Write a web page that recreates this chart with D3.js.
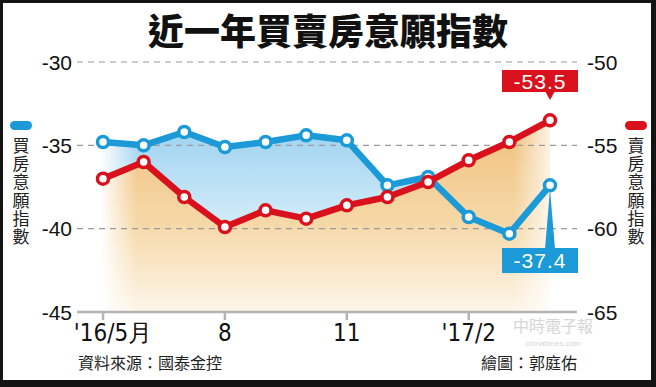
<!DOCTYPE html>
<html>
<head>
<meta charset="utf-8">
<script src="https://cdn.jsdelivr.net/npm/d3@7"></script>
<style>
  body { margin: 0; background: #fff; }
  svg { display: block; }
</style>
</head>
<body>
<div id="chart"></div>
<script>
// ---- data ----
const months = ["2016/5","2016/6","2016/7","2016/8","2016/9","2016/10","2016/11","2016/12","2017/1","2017/2","2017/3","2017/4"];
const buyIndex  = [-34.8, -35.0, -34.2, -35.1, -34.8, -34.4, -34.7, -37.4, -36.9, -39.3, -40.3, -37.4];
const sellIndex = [-57.0, -56.0, -58.1, -59.9, -58.9, -59.4, -58.6, -58.1, -57.2, -55.9, -54.8, -53.5];
const leftTicks  = [-30, -35, -40, -45];
const rightTicks = [-50, -55, -60, -65];
const xTickIdx    = [0, 3, 6, 9];
const xTickLabels = ["'16/5月", "8", "11", "'17/2"];

const W = 656, H = 387;
const BLUE = "#1b9ad7", RED = "#d8111c";
const CJK = "'Noto Sans CJK TC', 'Noto Sans CJK SC', sans-serif";
const NUM = "'Liberation Sans', Arial, sans-serif";
const NARROW = "'Liberation Sans Narrow', 'DejaVu Sans Condensed', 'Liberation Sans', sans-serif";

const svg = d3.select("#chart").append("svg")
  .attr("width", W).attr("height", H);

const defs = svg.append("defs");

// scales
const x = d3.scaleLinear().domain([0, months.length - 1]).range([103, 550]);
const yL = d3.scaleLinear().domain([-45, -30]).range([312, 62]);
const yR = d3.scaleLinear().domain([-65, -50]).range([312, 62]);
const gridX0 = 77, gridX1 = 577;

// frame
svg.append("rect").attr("x", 0).attr("y", 0).attr("width", W).attr("height", H).attr("fill", "#fff");
svg.append("rect").attr("x", 1.5).attr("y", 1.5).attr("width", W - 5).attr("height", H - 6)
  .attr("fill", "none").attr("stroke", "#141414").attr("stroke-width", 3);
svg.append("rect").attr("x", 0).attr("y", H - 7).attr("width", W).attr("height", 7).attr("fill", "#141414");
svg.append("rect").attr("x", W - 5).attr("y", 0).attr("width", 5).attr("height", H).attr("fill", "#141414");

// title
svg.append("text")
  .attr("x", 328).attr("y", 45)
  .attr("text-anchor", "middle")
  .style("font-family", CJK).style("font-weight", "900").style("font-size", "36px")
  .attr("fill", "#111")
  .text("近一年買賣房意願指數");

// gradients
const hFade = defs.append("linearGradient").attr("id", "hfade")
  .attr("gradientUnits", "userSpaceOnUse").attr("x1", 100).attr("x2", 560).attr("y1", 0).attr("y2", 0);
hFade.append("stop").attr("offset", 0).attr("stop-color", "#fff").attr("stop-opacity", 0);
hFade.append("stop").attr("offset", 0.08).attr("stop-color", "#fff").attr("stop-opacity", 1);
hFade.append("stop").attr("offset", 0.9).attr("stop-color", "#fff").attr("stop-opacity", 1);
hFade.append("stop").attr("offset", 1).attr("stop-color", "#fff").attr("stop-opacity", 0);
defs.append("mask").attr("id", "fademask")
  .append("rect").attr("x", 0).attr("y", 0).attr("width", W).attr("height", H).attr("fill", "url(#hfade)");

const orangeG = defs.append("linearGradient").attr("id", "orangeG")
  .attr("gradientUnits", "userSpaceOnUse").attr("x1", 0).attr("x2", 0).attr("y1", 120).attr("y2", 312);
orangeG.append("stop").attr("offset", 0).attr("stop-color", "#f0c07c");
orangeG.append("stop").attr("offset", 0.55).attr("stop-color", "#f6d9a9");
orangeG.append("stop").attr("offset", 1).attr("stop-color", "#fdf6ea");

const blueG = defs.append("linearGradient").attr("id", "blueG")
  .attr("gradientUnits", "userSpaceOnUse").attr("x1", 0).attr("x2", 0).attr("y1", 130).attr("y2", 230);
blueG.append("stop").attr("offset", 0).attr("stop-color", "#9fd3f0");
blueG.append("stop").attr("offset", 1).attr("stop-color", "#d6eef9");

// clip: region above the red line
const aboveRed = d3.area()
  .x((d, i) => x(i))
  .y0(0)
  .y1(d => yR(d));
defs.append("clipPath").attr("id", "aboveRed")
  .append("path").attr("d", aboveRed(sellIndex));

const plot = svg.append("g");

// orange area under the red line
plot.append("path")
  .attr("d", d3.area().x((d, i) => x(i)).y0(yL(-45)).y1(d => yR(d))(sellIndex))
  .attr("fill", "url(#orangeG)")
  .attr("mask", "url(#fademask)");

// blue area between blue line and red line
plot.append("path")
  .attr("d", d3.area().x((d, i) => x(i)).y0(yL(-45)).y1(d => yL(d))(buyIndex))
  .attr("fill", "url(#blueG)")
  .attr("clip-path", "url(#aboveRed)")
  .attr("mask", "url(#fademask)");

// grid lines
const gridG = svg.append("g");
leftTicks.slice(0, 3).forEach(t => {
  gridG.append("line")
    .attr("x1", gridX0).attr("x2", gridX1)
    .attr("y1", yL(t)).attr("y2", yL(t))
    .attr("stroke", "#9a9a9a").attr("stroke-width", 1.2)
    .attr("stroke-dasharray", "6,5");
});
// baseline
gridG.append("line")
  .attr("x1", gridX0).attr("x2", gridX1)
  .attr("y1", yL(-45)).attr("y2", yL(-45))
  .attr("stroke", "#b4b4b4").attr("stroke-width", 2.5);
xTickIdx.forEach(i => {
  gridG.append("line")
    .attr("x1", x(i)).attr("x2", x(i))
    .attr("y1", yL(-45)).attr("y2", yL(-45) + 8)
    .attr("stroke", "#b4b4b4").attr("stroke-width", 2.5);
});

// left axis labels
svg.append("g").selectAll("text").data(leftTicks).enter().append("text")
  .attr("x", 72).attr("y", d => yL(d))
  .attr("dy", "0.36em")
  .attr("text-anchor", "end")
  .style("font-family", NUM).style("font-size", "21px")
  .attr("fill", "#111")
  .text(d => d);

// right axis labels
svg.append("g").selectAll("text").data(rightTicks).enter().append("text")
  .attr("x", 587).attr("y", d => yR(d))
  .attr("dy", "0.36em")
  .attr("text-anchor", "start")
  .style("font-family", NUM).style("font-size", "21px")
  .attr("fill", "#111")
  .text(d => d);

// x labels
svg.append("g").selectAll("text").data(xTickIdx).enter().append("text")
  .attr("x", (d, i) => x(d) + (i === 0 ? 10 : 0))
  .attr("y", 341)
  .attr("text-anchor", "middle")
  .style("font-family", NARROW).style("font-size", "24px")
  .attr("fill", "#111")
  .text((d, i) => xTickLabels[i]);

// lines
const lineL = d3.line().x((d, i) => x(i)).y(d => yL(d));
const lineR = d3.line().x((d, i) => x(i)).y(d => yR(d));

function drawSeries(values, lineFn, yScale, color) {
  const g = svg.append("g");
  g.append("path")
    .attr("d", lineFn(values))
    .attr("fill", "none")
    .attr("stroke", color)
    .attr("stroke-width", 6.5)
    .attr("stroke-linejoin", "round");
  g.selectAll("circle").data(values).enter().append("circle")
    .attr("cx", (d, i) => x(i))
    .attr("cy", d => yScale(d))
    .attr("r", 5.5)
    .attr("fill", "#fff")
    .attr("stroke", color)
    .attr("stroke-width", 3.5);
}
drawSeries(buyIndex, lineL, yL, BLUE);
drawSeries(sellIndex, lineR, yR, RED);

// value callouts
function callout(value, px, py, boxY, color, up) {
  const g = svg.append("g");
  const bx = 502, bw = 76, bh = up ? 25 : 22;
  if (up) {
    g.append("path")
      .attr("d", `M${px},${py + 4} L${px - 5},${boxY + 1} L${px + 5},${boxY + 1} Z`)
      .attr("fill", color);
  } else {
    g.append("path")
      .attr("d", `M${px - 5},${boxY + bh - 1} L${px + 5},${boxY + bh - 1} L${px},${boxY + bh + 8} Z`)
      .attr("fill", color);
  }
  g.append("rect").attr("x", bx).attr("y", boxY).attr("width", bw).attr("height", bh).attr("fill", color);
  g.append("text")
    .attr("x", bx + bw / 2).attr("y", boxY + bh / 2)
    .attr("dy", "0.36em")
    .attr("text-anchor", "middle")
    .style("font-family", NUM).style("font-size", "21px")
    .style("letter-spacing", "1px")
    .attr("fill", "#fff")
    .text(value.toFixed(1));
}
const nLast = months.length - 1;
callout(sellIndex[nLast], x(nLast), yR(sellIndex[nLast]), 70, RED, false);
callout(buyIndex[nLast], x(nLast), yL(buyIndex[nLast]), 248, BLUE, true);

// legends (vertical text, one text element each)
function legend(cx, color, label) {
  const g = svg.append("g");
  g.append("rect").attr("x", cx - 11).attr("y", 121).attr("width", 22).attr("height", 9)
    .attr("rx", 4.5).attr("fill", color);
  g.append("text")
    .attr("x", cx).attr("y", 137)
    .style("writing-mode", "vertical-rl")
    .style("text-orientation", "upright")
    .style("font-family", CJK).style("font-size", "17px")
    .style("letter-spacing", "1.2px")
    .attr("fill", "#222")
    .text(label);
}
legend(21, BLUE, "買房意願指數");
legend(636, RED, "賣房意願指數");

// footer
svg.append("text")
  .attr("x", 78).attr("y", 369)
  .style("font-family", CJK).style("font-size", "16px")
  .attr("fill", "#222")
  .text("資料來源：國泰金控");
svg.append("text")
  .attr("x", 577).attr("y", 369)
  .attr("text-anchor", "end")
  .style("font-family", CJK).style("font-size", "16px")
  .attr("fill", "#222")
  .text("繪圖：郭庭佑");

// faint watermark
svg.append("text")
  .attr("x", 553).attr("y", 332)
  .attr("text-anchor", "middle")
  .style("font-family", CJK).style("font-size", "16px")
  .attr("fill", "#d6d6d6")
  .text("中時電子報");
svg.append("text")
  .attr("x", 553).attr("y", 346)
  .attr("text-anchor", "middle")
  .style("font-family", NUM).style("font-size", "8px")
  .attr("fill", "#d6d6d6")
  .text("chinatimes.com");
</script>
</body>
</html>
